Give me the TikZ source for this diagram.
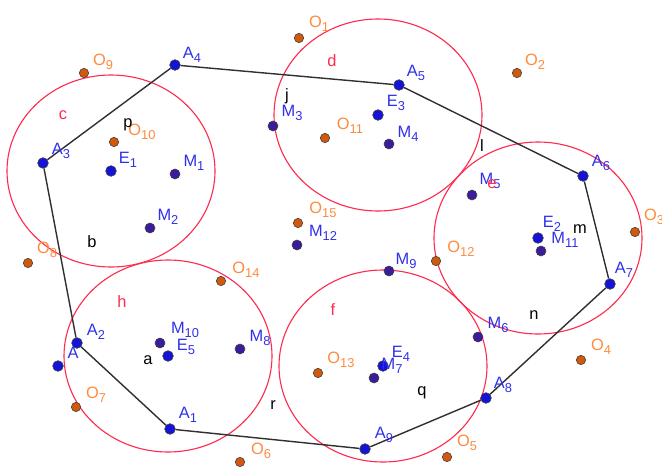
\documentclass[tikz,border=0pt]{standalone}
\usepackage{fontspec}
\setmainfont{Liberation Sans}
\usepackage{xcolor}
\usepackage{tikz}
\usetikzlibrary{positioning,backgrounds}
\definecolor{ptblue}{HTML}{1414D8}
\definecolor{ptindigo}{HTML}{3B1C9C}
\definecolor{ptorange}{HTML}{D4580C}
\definecolor{txtblue}{HTML}{3030E8}
\definecolor{txtorange}{HTML}{FF8A3D}
\definecolor{circred}{HTML}{FF2A4E}
\definecolor{edgegray}{HTML}{303030}
\newcommand{\sub}[1]{\raisebox{-3pt}{\fontsize{11}{11}\selectfont #1}}
\tikzset{
  vertex/.style={circle,draw=black!75,fill=ptblue,line width=0.5pt,inner sep=0pt,minimum size=0.32cm},
  mpoint/.style={circle,draw=black!75,fill=ptindigo,line width=0.5pt,inner sep=0pt,minimum size=0.3cm},
  opoint/.style={circle,draw=black!75,fill=ptorange,line width=0.5pt,inner sep=0pt,minimum size=0.28cm},
  bluelabel/.style={text=txtblue,inner sep=0pt},
  orangelabel/.style={text=txtorange,inner sep=0pt},
  redlabel/.style={text=circred,inner sep=0pt},
  seglabel/.style={text=black,inner sep=0pt},
  polyedge/.style={edgegray,line width=1.2pt},
  disc/.style={circred,line width=0.95pt}
}
\begin{document}
\begin{tikzpicture}[x=0.03cm,y=-0.03cm,font=\fontsize{14}{16}\selectfont]
  \useasboundingbox (0,0) rectangle (662,466);
  \node[vertex] (A) at (58,366) {};
  \node[vertex] (A1) at (170,429) {};
  \node[vertex] (A2) at (77,343) {};
  \node[vertex] (A3) at (43,163) {};
  \node[vertex] (A4) at (175,65) {};
  \node[vertex] (A5) at (399,85) {};
  \node[vertex] (A6) at (583,176) {};
  \node[vertex] (A7) at (610,284) {};
  \node[vertex] (A8) at (486,398) {};
  \node[vertex] (A9) at (365,449) {};
  \node[vertex] (E1) at (111,171) {};
  \node[vertex] (E2) at (538,238) {};
  \node[vertex] (E3) at (378,115) {};
  \node[vertex] (E4) at (383,366) {};
  \node[vertex] (E5) at (168,356) {};
  \node[mpoint] (M1) at (175,174) {};
  \node[mpoint] (M2) at (150,228) {};
  \node[mpoint] (M3) at (273,126) {};
  \node[mpoint] (M4) at (389,144) {};
  \node[mpoint] (M5) at (472,195) {};
  \node[mpoint] (M6) at (478,337) {};
  \node[mpoint] (M7) at (374,378) {};
  \node[mpoint] (M8) at (240,349) {};
  \node[mpoint] (M9) at (389,271) {};
  \node[mpoint] (M10) at (160,343) {};
  \node[mpoint] (M11) at (541,251) {};
  \node[mpoint] (M12) at (297,245) {};
  \node[opoint] (O1) at (299,38) {};
  \node[opoint] (O2) at (517,73) {};
  \node[opoint] (O3) at (635,232) {};
  \node[opoint] (O4) at (581,360) {};
  \node[opoint] (O5) at (447,457) {};
  \node[opoint] (O6) at (240,462) {};
  \node[opoint] (O7) at (76,407) {};
  \node[opoint] (O8) at (28,263) {};
  \node[opoint] (O9) at (84,73) {};
  \node[opoint] (O10) at (114,142) {};
  \node[opoint] (O11) at (325,138) {};
  \node[opoint] (O12) at (436,261) {};
  \node[opoint] (O13) at (318,373) {};
  \node[opoint] (O14) at (221,281) {};
  \node[opoint] (O15) at (298,223) {};
  \begin{scope}[on background layer]
    \draw[disc] (E1) ellipse [x radius=3.12cm,y radius=2.88cm];
    \draw[disc] (E2) ellipse [x radius=3.12cm,y radius=2.88cm];
    \draw[disc] (E3) ellipse [x radius=3.12cm,y radius=2.88cm];
    \draw[disc] (E4) ellipse [x radius=3.12cm,y radius=2.88cm];
    \draw[disc] (E5) ellipse [x radius=3.12cm,y radius=2.88cm];
    \draw[polyedge] (A3) -- (A4) -- (A5) -- (A6) -- (A7) -- (A8) -- (A9) -- (A1) -- (A2) -- (A3);
  \end{scope}
  \node[bluelabel] (tA) at (73,353) {A};
  \node[bluelabel] (tA1) at (188,415) {A\sub{1}};
  \node[bluelabel] (tA2) at (96,332) {A\sub{2}};
  \node[bluelabel] (tA3) at (61,151) {A\sub{3}};
  \node[bluelabel] (tA4) at (192,55) {A\sub{4}};
  \node[bluelabel] (tA5) at (416,73) {A\sub{5}};
  \node[bluelabel] (tA6) at (601,163) {A\sub{6}};
  \node[bluelabel] (tA7) at (624,270) {A\sub{7}};
  \node[bluelabel] (tA8) at (503,385) {A\sub{8}};
  \node[bluelabel] (tA9) at (384,435) {A\sub{9}};
  \node[bluelabel] (tE1) at (128,160) {E\sub{1}};
  \node[bluelabel] (tE2) at (552,224) {E\sub{2}};
  \node[bluelabel] (tE3) at (396,103) {E\sub{3}};
  \node[bluelabel] (tE4) at (401,354) {E\sub{4}};
  \node[bluelabel] (tE5) at (186,347) {E\sub{5}};
  \node[bluelabel] (tM1) at (194,163) {M\sub{1}};
  \node[bluelabel] (tM2) at (168,217) {M\sub{2}};
  \node[bluelabel] (tM3) at (292,113) {M\sub{3}};
  \node[bluelabel] (tM4) at (408,134) {M\sub{4}};
  \node[bluelabel] (tM5) at (490,181) {M\sub{5}};
  \node[bluelabel] (tM6) at (498,325) {M\sub{6}};
  \node[bluelabel] (tM7) at (392,366) {M\sub{7}};
  \node[bluelabel] (tM8) at (260,338) {M\sub{8}};
  \node[bluelabel] (tM9) at (406,261) {M\sub{9}};
  \node[bluelabel] (tM10) at (185,330) {M\sub{10}};
  \node[bluelabel] (tM11) at (565,240) {M\sub{11}};
  \node[bluelabel] (tM12) at (323,233) {M\sub{12}};
  \node[orangelabel] (tO1) at (319,24) {O\sub{1}};
  \node[orangelabel] (tO2) at (535,62) {O\sub{2}};
  \node[orangelabel] (tO3) at (654,217) {O\sub{3}};
  \node[orangelabel] (tO4) at (601,347) {O\sub{4}};
  \node[orangelabel] (tO5) at (467,443) {O\sub{5}};
  \node[orangelabel] (tO6) at (261,451) {O\sub{6}};
  \node[orangelabel] (tO7) at (96,395) {O\sub{7}};
  \node[orangelabel] (tO8) at (47,250) {O\sub{8}};
  \node[orangelabel] (tO9) at (103,62) {O\sub{9}};
  \node[orangelabel] (tO10) at (142,132) {O\sub{10}};
  \node[orangelabel] (tO11) at (350,126) {O\sub{11}};
  \node[orangelabel] (tO12) at (461,249) {O\sub{12}};
  \node[orangelabel] (tO13) at (341,360) {O\sub{13}};
  \node[orangelabel] (tO14) at (246,270) {O\sub{14}};
  \node[orangelabel] (tO15) at (323,210) {O\sub{15}};
  \node[redlabel] (tc) at (63,115) {c};
  \node[redlabel] (td) at (332,61) {d};
  \node[redlabel] (te) at (492,184) {e};
  \node[redlabel] (th) at (122,302) {h};
  \node[redlabel] (tf) at (333,310) {f};
  \node[seglabel] (tj) at (287,96) {j};
  \node[seglabel] (tl) at (482,146) {l};
  \node[seglabel] (tm) at (580,229) {m};
  \node[seglabel] (tn) at (534,315) {n};
  \node[seglabel] (tq) at (422,393) {q};
  \node[seglabel] (tr) at (273,405) {r};
  \node[seglabel] (ta) at (148,360) {a};
  \node[seglabel] (tb) at (92,242) {b};
  \node[seglabel] (tp) at (128,125) {p};
\end{tikzpicture}
\end{document}
